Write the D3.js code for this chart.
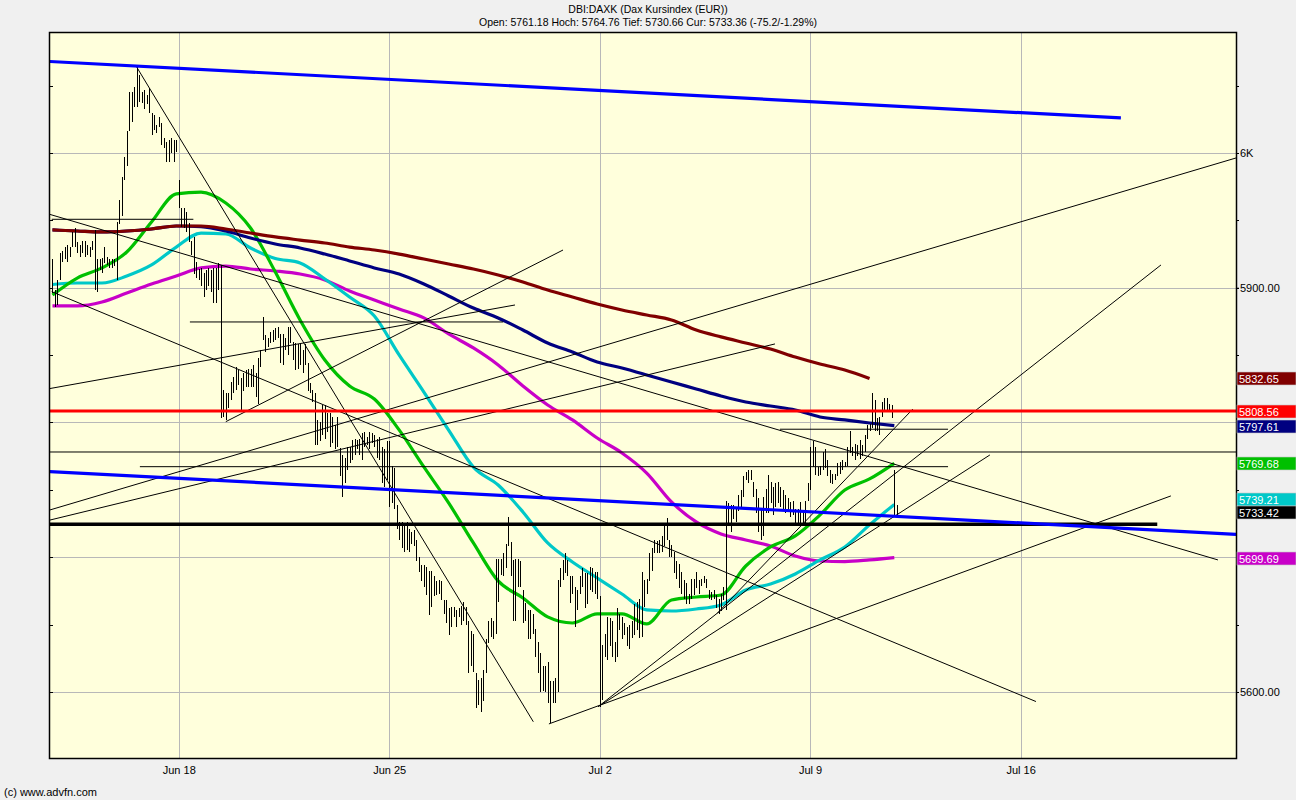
<!DOCTYPE html>
<html>
<head>
<meta charset="utf-8">
<script src="https://cdn.jsdelivr.net/npm/d3@7"></script>
<style>
  body { margin: 0; background: #f0f0f0; }
  svg { display: block; font-family: "Liberation Sans", Arial, sans-serif; }
</style>
</head>
<body>
<svg id="chart" width="1296" height="800"></svg>
<script>
// 30 minute bars, Jun 13 .. Jul 11 (bar index = position on the time axis)
const barHigh = [
  5921,5898,5906,5926,5927,5930,5932,5930,5941,5944,5934,5932,5935,5935,5932,5930,5935,5943,5921,5921,
  5922,5930,5923,5921,5921,5921,5949,5965,5982,5997,6016,6045,6045,6049,6064,6058,6045,6047,6043,6048,
  6030,6028,6021,6027,6022,6011,6008,6010,6011,6010,6010,5980,5959,5959,5956,5948,5935,5938,5919,5914,
  5915,5911,5913,5915,5913,5915,5915,5918,5917,5824,5822,5822,5830,5834,5841,5839,5833,5837,5839,5840,
  5840,5843,5837,5848,5854,5878,5865,5863,5867,5869,5870,5871,5866,5866,5863,5871,5871,5860,5859,5858,
  5859,5854,5858,5844,5829,5824,5822,5802,5800,5813,5813,5807,5807,5804,5798,5804,5781,5776,5774,5782,
  5782,5787,5788,5787,5788,5792,5793,5789,5793,5792,5791,5788,5789,5782,5780,5786,5786,5768,5766,5739,
  5726,5726,5723,5726,5721,5719,5720,5713,5700,5694,5694,5693,5690,5690,5686,5682,5683,5682,5668,5668,
  5662,5663,5663,5661,5662,5664,5667,5663,5653,5645,5643,5614,5609,5610,5616,5639,5653,5655,5653,5699,
  5699,5699,5703,5710,5730,5711,5698,5699,5699,5697,5676,5666,5661,5661,5658,5647,5637,5629,5619,5619,
  5622,5608,5608,5610,5683,5692,5698,5703,5698,5686,5686,5678,5676,5686,5692,5688,5688,5693,5692,5689,
  5689,5671,5635,5643,5656,5655,5653,5637,5662,5658,5656,5651,5648,5650,5653,5665,5667,5669,5689,5683,
  5684,5703,5707,5713,5712,5713,5716,5723,5729,5713,5709,5704,5697,5695,5689,5683,5681,5673,5684,5684,
  5689,5683,5684,5686,5684,5676,5674,5676,5672,5669,5673,5678,5742,5740,5739,5739,5737,5746,5750,5760,
  5763,5765,5765,5756,5751,5744,5736,5745,5751,5761,5756,5752,5755,5756,5752,5750,5746,5744,5741,5742,
  5736,5736,5741,5734,5742,5755,5782,5786,5782,5767,5768,5778,5780,5772,5765,5762,5762,5770,5771,5772,
  5771,5782,5794,5782,5784,5783,5787,5783,5791,5798,5799,5822,5817,5803,5804,5815,5818,5818,5814,5813,
  5765,5739
];
const barLow = [
  5896,5886,5887,5906,5919,5921,5919,5923,5930,5930,5926,5923,5926,5923,5924,5923,5928,5898,5897,5913,
  5911,5918,5917,5915,5915,5916,5906,5947,5953,5980,5990,6016,6023,6034,6034,6038,6037,6033,6036,6030,
  6013,6017,6015,6019,6006,6004,5993,5993,6000,5993,6001,5959,5945,5944,5941,5934,5924,5910,5907,5906,
  5901,5893,5898,5901,5897,5889,5889,5898,5803,5804,5802,5811,5817,5822,5824,5828,5808,5823,5826,5826,
  5826,5826,5819,5814,5841,5861,5852,5856,5859,5860,5861,5863,5844,5843,5854,5850,5859,5846,5839,5840,
  5843,5837,5843,5823,5822,5815,5783,5783,5786,5791,5788,5793,5782,5785,5780,5782,5760,5745,5755,5765,
  5770,5772,5776,5780,5776,5772,5782,5783,5780,5785,5782,5774,5772,5755,5752,5757,5737,5740,5736,5721,
  5713,5707,5704,5705,5704,5710,5708,5697,5689,5682,5678,5672,5657,5663,5671,5672,5673,5668,5658,5651,
  5642,5648,5656,5648,5656,5650,5653,5650,5614,5619,5615,5588,5590,5585,5593,5614,5636,5641,5639,5643,
  5667,5687,5686,5692,5708,5686,5653,5653,5678,5678,5651,5653,5639,5639,5643,5626,5614,5600,5601,5600,
  5592,5577,5592,5592,5600,5678,5683,5688,5686,5666,5673,5648,5661,5673,5678,5662,5665,5676,5674,5673,
  5669,5589,5594,5626,5624,5634,5626,5622,5626,5646,5639,5642,5634,5632,5640,5642,5646,5640,5641,5663,
  5673,5682,5690,5703,5703,5703,5704,5708,5713,5700,5700,5688,5684,5677,5673,5669,5665,5665,5669,5672,
  5677,5673,5679,5681,5677,5669,5668,5669,5662,5658,5660,5668,5661,5725,5719,5728,5726,5734,5737,5745,
  5757,5755,5757,5745,5733,5719,5713,5716,5733,5733,5740,5731,5737,5740,5737,5736,5733,5734,5730,5731,
  5725,5725,5725,5725,5725,5742,5750,5767,5761,5760,5761,5765,5766,5760,5755,5754,5757,5760,5762,5765,
  5767,5768,5777,5775,5772,5775,5773,5775,5778,5788,5794,5796,5794,5794,5791,5804,5808,5808,5808,5803,
  5730,5730
];

// moving averages read every 10 bars
const maIdx = [0,10,20,30,40,50,60,70,80,90,100,110,120,130,140,150,160,170,180,190,
               200,210,220,230,240,250,260,270,280,290,300,310,320,330,340];
const maMaroon = [5942.9,5942.1,5941.4,5942.1,5943.6,5945.8,5945.8,5943.6,5940.6,5937.7,5935.4,5933.2,
  5930.2,5928,5925,5921.3,5917.6,5913.9,5909.5,5904.3,5898.3,5893.1,5887.9,5883.5,5879.8,5876.1,
  5868.6,5863.5,5859,5854.5,5848.6,5843.4,5838.9,5832.65];
const maNavy = [5942.9,5942.1,5941.4,5942.1,5943.6,5945.8,5945.3,5942.1,5936.9,5932.5,5929.5,5925,
  5919.9,5914.7,5910.2,5902.8,5893.9,5884.9,5877.6,5868.6,5859,5852.3,5844.9,5840.4,5835.3,5830,
  5824.9,5819.7,5815.2,5812.2,5809.3,5804.1,5801.9,5799.6,5797.61];
const maGreen = [5894.6,5907.2,5914.7,5926.5,5948.8,5969.6,5971,5962.9,5944.3,5911.7,5876.1,5846.4,
  5827.1,5817.4,5794.5,5767,5740.3,5710.6,5682.4,5669.8,5655.7,5651.2,5657.9,5657.9,5650.5,5668.3,
  5670.5,5672,5693.5,5707.6,5715.8,5731.4,5749.9,5758.1,5769.68];
const maCyan = [5902.4,5903.5,5903.5,5908.7,5916.9,5930.2,5940.6,5939.9,5929.5,5921.7,5918.4,5906.5,
  5893.1,5879,5850.1,5822.6,5794.4,5766.9,5753.6,5733.6,5710.6,5696.5,5684.6,5672.7,5660.9,5660.1,
  5661.6,5664.6,5675.7,5680.1,5687.6,5698,5707.6,5724,5739.21];
const maMagenta = [5886.5,5886.5,5889.4,5896.1,5902.8,5908.7,5914.7,5916.1,5913.9,5912.4,5910.2,5905.8,
  5897.6,5890.9,5884.2,5877.6,5865.7,5855.3,5842.7,5827.1,5813,5801.9,5788.5,5777.4,5762.5,5741,
  5726.2,5717.3,5712.8,5708.3,5700.9,5697.2,5696.8,5698,5699.69];

// drawn lines: [startBar, startPrice, endBar, endPrice]
const thickBlue = [[-1, 6067.9, 431.5, 6026.0], [-1, 5763.6, 478, 5716.96]];
const redLevel = [[-1, 5808.56, 478, 5808.56]];
const blackLevel = [[-1, 5724.5, 446.2, 5724.5]];
const thinLines = [
  [-0.3, 5950.8, 56.9, 5950.8],
  [55.5, 5874.6, 182, 5874.6],
  [-1, 5778.1, 478, 5778.1],
  [35.3, 5767.2, 361.7, 5767.2],
  [293.8, 5795, 361.7, 5795],
  [34, 6063.8, 194.2, 5577.9],
  [-1, 5954.4, 470.7, 5698.0],
  [-0.3, 5897.1, 397.2, 5592.9],
  [-1, 5735.1, 478, 5996.3],
  [-1, 5727.6, 291.8, 5858.3],
  [70, 5800.6, 206.2, 5928],
  [-1, 5825.2, 186.8, 5887.2],
  [200.5, 5576.3, 451.7, 5745.5],
  [220.4, 5589.1, 378.6, 5775.9],
  [220.4, 5589.1, 447.7, 5916.9],
  [268.5, 5658.4, 347.5, 5810]
];

// right side value labels
const lastVals = [5832.65, 5808.56, 5797.61, 5769.68, 5739.21, 5733.42, 5699.69];
const weekStarts = [51, 136, 221, 306, 391];
const weekLabels = ["Jun 18", "Jun 25", "Jul 2", "Jul 9", "Jul 16"];
const yTickVals = [6000, 5900, 5600];
const yTickLabels = ["6K", "5900.00", "5600.00"];
const gridVals = [6000, 5900, 5800, 5700, 5600];
const titleText = "DBI:DAXK (Dax Kursindex (EUR))";
const subText = "Open: 5761.18 Hoch: 5764.76 Tief: 5730.66 Cur: 5733.36 (-75.2/-1.29%)";

const LEFT = 50, RIGHT = 1236, TOP = 33, BOTTOM = 758;
const LABEL_H = 13;
const LABEL_COLORS = ["#800000", "#ff0000", "#000080", "#00c000", "#00c8c8", "#000000", "#c800c8"];

const svg = d3.select("#chart");
const x = d3.scaleLinear().domain([-1, 478]).range([LEFT, RIGHT]);
const y = d3.scaleLinear().domain([5551, 6089.05]).range([BOTTOM, TOP]);

svg.append("rect").attr("width", 1296).attr("height", 800).attr("fill", "#f0f0f0");
svg.append("rect")
  .attr("x", LEFT).attr("y", TOP)
  .attr("width", RIGHT - LEFT).attr("height", BOTTOM - TOP)
  .attr("fill", "#ffffdc");

svg.append("defs").append("clipPath").attr("id", "plotclip")
  .append("rect")
  .attr("x", LEFT).attr("y", TOP)
  .attr("width", RIGHT - LEFT).attr("height", BOTTOM - TOP);

const plot = svg.append("g").attr("clip-path", "url(#plotclip)");

// grid
plot.selectAll(".hgrid").data(gridVals).enter().append("line")
  .attr("x1", LEFT).attr("x2", RIGHT)
  .attr("y1", (d) => Math.round(y(d)) + 0.5).attr("y2", (d) => Math.round(y(d)) + 0.5)
  .attr("stroke", "#b8b8b8");
plot.selectAll(".vgrid").data(weekStarts).enter().append("line")
  .attr("y1", TOP).attr("y2", BOTTOM)
  .attr("x1", (d) => Math.round(x(d)) + 0.5).attr("x2", (d) => Math.round(x(d)) + 0.5)
  .attr("stroke", "#b8b8b8");

// moving averages (navy first so the maroon covers it where they run together)
const maSeries = [
  { vals: maMagenta, color: "#c800c8" },
  { vals: maCyan, color: "#00c8c8" },
  { vals: maGreen, color: "#00c000" },
  { vals: maNavy, color: "#000080" },
  { vals: maMaroon, color: "#800000" }
];
const maLine = d3.line()
  .x((d) => x(d[0]))
  .y((d) => y(d[1]))
  .curve(d3.curveMonotoneX);

plot.selectAll(".ma").data(maSeries).enter().append("path")
  .attr("class", "ma")
  .attr("d", (s) => maLine(s.vals.map((v, i) => [maIdx[i], v])))
  .attr("fill", "none")
  .attr("stroke", (s) => s.color)
  .attr("stroke-width", 3.2);

// price bars (high - low)
plot.selectAll(".bar").data(barHigh).enter().append("line")
  .attr("class", "bar")
  .attr("x1", (d, i) => Math.round(x(i)) + 0.5)
  .attr("x2", (d, i) => Math.round(x(i)) + 0.5)
  .attr("y1", (d) => y(d))
  .attr("y2", (d, i) => y(barLow[i]))
  .attr("stroke", "#000")
  .attr("stroke-width", 1)
  .attr("shape-rendering", "crispEdges");

function drawSegs(data, color, width) {
  plot.append("g").selectAll("line").data(data).enter().append("line")
    .attr("x1", (d) => x(d[0])).attr("y1", (d) => y(d[1]))
    .attr("x2", (d) => x(d[2])).attr("y2", (d) => y(d[3]))
    .attr("stroke", color)
    .attr("stroke-width", width);
}
drawSegs(thinLines, "#000", 1);
drawSegs(blackLevel, "#000", 3.5);
drawSegs(redLevel, "#ff0000", 3);
drawSegs(thickBlue, "#0000ff", 3.2);

// border
svg.append("rect")
  .attr("x", LEFT - 0.5).attr("y", TOP - 0.5)
  .attr("width", RIGHT - LEFT + 1).attr("height", BOTTOM - TOP + 1)
  .attr("fill", "none").attr("stroke", "#000").attr("stroke-width", 1.5);

// minor ticks every 50 points on both sides
const minor = d3.range(5600, 6051, 50);
svg.selectAll(".lt").data(minor).enter().append("line")
  .attr("x1", LEFT).attr("x2", LEFT + 3)
  .attr("y1", (d) => Math.round(y(d)) + 0.5).attr("y2", (d) => Math.round(y(d)) + 0.5)
  .attr("stroke", "#000");
svg.selectAll(".rt").data(minor).enter().append("line")
  .attr("x1", RIGHT).attr("x2", RIGHT + 3)
  .attr("y1", (d) => Math.round(y(d)) + 0.5).attr("y2", (d) => Math.round(y(d)) + 0.5)
  .attr("stroke", "#000");

// axes
const xAxis = svg.append("g")
  .attr("transform", `translate(0,${BOTTOM})`)
  .call(d3.axisBottom(x).tickValues(weekStarts).tickFormat((d, i) => weekLabels[i]).tickSize(0).tickPadding(8));
xAxis.select(".domain").remove();
xAxis.selectAll("text").attr("font-size", "11px").attr("font-family", "Liberation Sans, Arial, sans-serif").attr("fill", "#000");

const yAxis = svg.append("g")
  .attr("transform", `translate(${RIGHT},0)`)
  .call(d3.axisRight(y).tickValues(yTickVals).tickFormat((d, i) => yTickLabels[i]).tickSize(3).tickPadding(1));
yAxis.select(".domain").remove();
yAxis.selectAll("text").attr("font-size", "11px").attr("font-family", "Liberation Sans, Arial, sans-serif").attr("fill", "#000");

// value labels on the right; a label that would sit under the next one is nudged up
const labelY = lastVals.map((v) => Math.round(y(v)));
for (let i = labelY.length - 2; i >= 0; i--) {
  if (labelY[i + 1] - labelY[i] < LABEL_H && labelY[i + 1] > labelY[i]) {
    labelY[i] = labelY[i + 1] - LABEL_H;
  }
}
const lbl = svg.append("g").selectAll("g").data(lastVals).enter().append("g")
  .attr("transform", (d, i) => `translate(${RIGHT + 1},${labelY[i]})`);
lbl.append("rect")
  .attr("x", 0).attr("y", -6).attr("width", 59).attr("height", LABEL_H)
  .attr("fill", (d, i) => LABEL_COLORS[i])
  .attr("stroke", "#c8c8c8").attr("stroke-width", 0.6);
lbl.append("text")
  .attr("x", 2).attr("y", 4.5)
  .attr("font-size", "11px")
  .attr("fill", "#fff")
  .text((d) => d3.format(".2f")(d));

// titles
svg.append("text").attr("x", 648).attr("y", 13).attr("text-anchor", "middle")
  .attr("font-size", "10.5px").text(titleText);
svg.append("text").attr("x", 648).attr("y", 26).attr("text-anchor", "middle")
  .attr("font-size", "10.5px").text(subText);
svg.append("text").attr("x", 4).attr("y", 796)
  .attr("font-size", "11px").text("(c) www.advfn.com");
</script>
</body>
</html>
